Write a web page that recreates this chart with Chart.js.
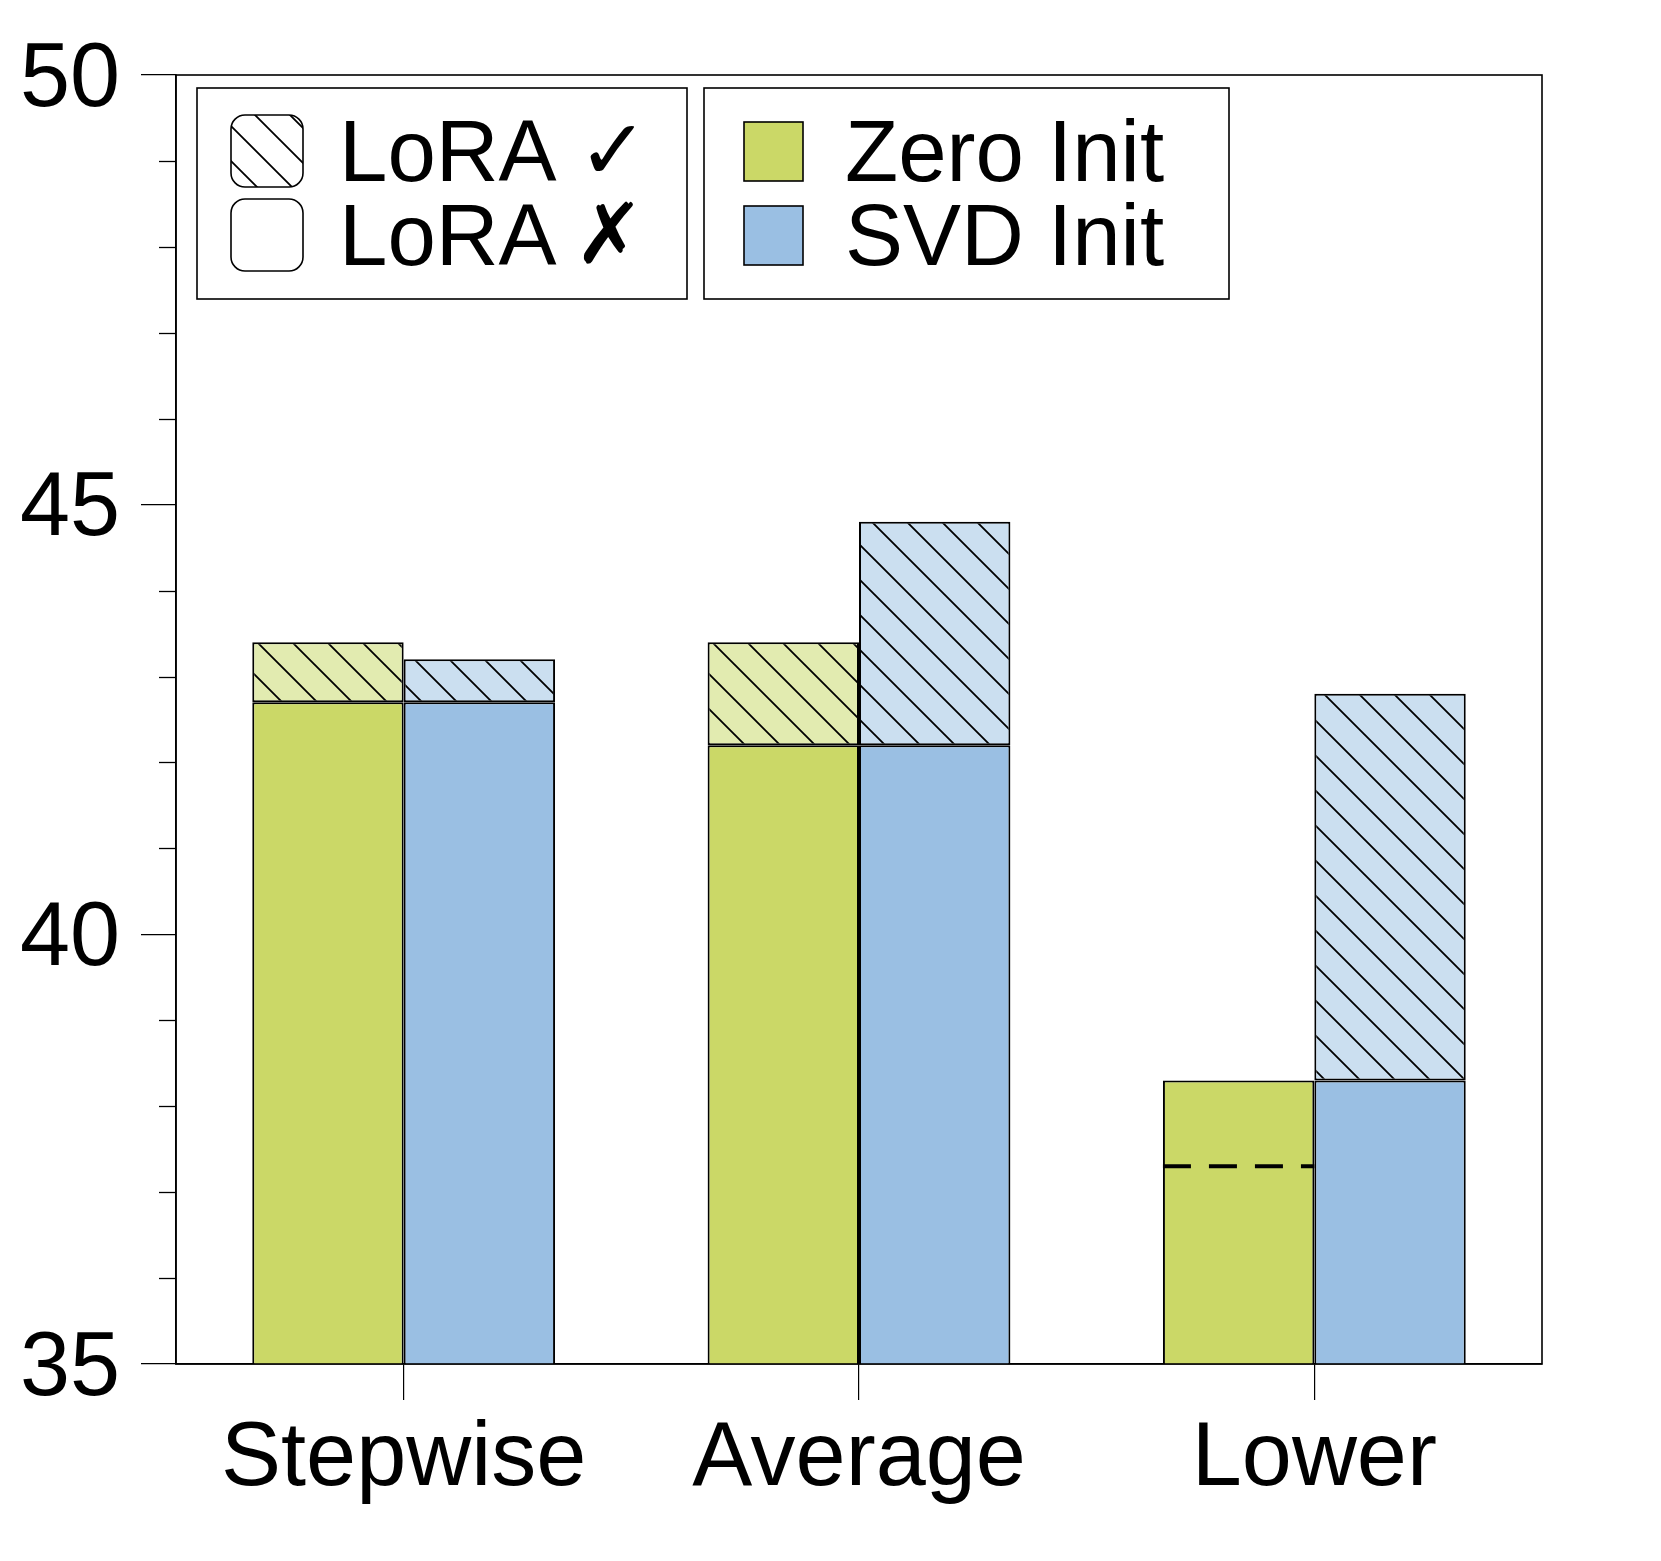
<!DOCTYPE html>
<html lang="en">
<head>
<meta charset="UTF-8">
<title>LoRA init comparison</title>
<script src="https://cdn.jsdelivr.net/npm/chart.js"></script>
<style>
    body { margin: 0; background: #fff; }
    #wrap { width: 1661px; height: 1561px; }
</style>
</head>
<body>
<div id="wrap"><canvas id="chart" width="1661" height="1561"></canvas></div>
<script>
// data
const categories = ['Stepwise', 'Average', 'Lower'];
const zeroInit = [42.7, 42.2, 38.3];
const zeroInitLora = [43.4, 43.4, null];
const svdInit = [42.7, 42.2, 38.3];
const svdInitLora = [43.2, 44.8, 42.8];
const lowerDashed = [null, null, 37.3];
const yTicks = [35, 40, 45, 50];
const yMinorStep = 1;

const green = '#cbd867';
const greenLight = '#e2ebb0';
const blue = '#9abfe3';
const blueLight = '#cbdff0';
const FONT = '"Liberation Sans", Arial, sans-serif';

const ctx = document.getElementById('chart').getContext('2d');

function hatch(bg) {
    const s = 35;
    const c = document.createElement('canvas');
    c.width = s; c.height = s;
    const g = c.getContext('2d');
    g.fillStyle = bg;
    g.fillRect(0, 0, s, s);
    g.strokeStyle = '#000';
    g.lineWidth = 1.8;
    g.beginPath();
    g.moveTo(-5, -5); g.lineTo(s + 5, s + 5);
    g.moveTo(-5, s - 5); g.lineTo(5, s + 5);
    g.moveTo(s - 5, -5); g.lineTo(s + 5, 5);
    g.stroke();
    return ctx.createPattern(c, 'repeat');
}

const diff = (top, base) => top.map((v, i) => v == null ? null : +(v - base[i]).toFixed(2));

const barStyle = { borderColor: '#000', borderWidth: 2, categoryPercentage: 0.665, barPercentage: 1.0 };

// minor ticks, frame, dashed marker
const extras = {
    id: 'extras',
    afterDatasetsDraw(chart) {
        const c = chart.ctx, a = chart.chartArea, y = chart.scales.y;
        c.save();
        c.strokeStyle = '#000';
        c.lineWidth = 1.6;
        c.strokeRect(a.left, a.top, a.right - a.left, a.bottom - a.top);
        c.lineWidth = 1.3;
        for (let v = y.min; v <= y.max; v += yMinorStep) {
            if (yTicks.includes(v)) continue;
            const py = Math.round(y.getPixelForValue(v)) + 0.5;
            c.beginPath();
            c.moveTo(a.left - 17, py);
            c.lineTo(a.left, py);
            c.stroke();
        }
        const meta = chart.getDatasetMeta(0);
        lowerDashed.forEach((v, i) => {
            if (v == null) return;
            const bar = meta.data[i];
            const py = y.getPixelForValue(v);
            c.lineWidth = 4;
            c.setLineDash([28, 18]);
            c.beginPath();
            c.moveTo(bar.x - bar.width / 2, py);
            c.lineTo(bar.x + bar.width / 2, py);
            c.stroke();
        });
        c.restore();
    },
    afterDraw(chart) {
        const c = chart.ctx;
        c.save();
        c.strokeStyle = '#000';
        c.lineWidth = 1.6;
        c.fillStyle = '#000';
        c.font = '87px ' + FONT;
        c.textBaseline = 'alphabetic';

        // legend 1: LoRA on / off
        c.strokeRect(197, 88, 490, 211);
        c.beginPath();
        c.roundRect(231, 115, 72, 72, 14);
        c.fillStyle = hatch('#ffffff');
        c.fill();
        c.stroke();
        c.beginPath();
        c.roundRect(231, 199, 72, 72, 14);
        c.fillStyle = '#fff';
        c.fill();
        c.stroke();
        c.fillStyle = '#000';
        c.fillText('LoRA', 339, 181);
        c.fillText('LoRA', 339, 265);
        c.font = 'bold 84px "DejaVu Sans", sans-serif';
        c.fillText('\u2713', 578, 179);
        c.fillText('\u2717', 574, 263);
        c.font = '87px ' + FONT;

        // legend 2: init
        c.strokeRect(704, 88, 525, 211);
        c.fillStyle = green;
        c.fillRect(744, 122, 59, 59);
        c.strokeRect(744, 122, 59, 59);
        c.fillStyle = blue;
        c.fillRect(744, 206, 59, 59);
        c.strokeRect(744, 206, 59, 59);
        c.fillStyle = '#000';
        c.fillText('Zero Init', 845, 181);
        c.fillText('SVD Init', 845, 265);
        c.restore();
    }
};

new Chart(ctx, {
    type: 'bar',
    data: {
        labels: categories,
        datasets: [
            { label: 'Zero Init', data: zeroInit, stack: 'zero', backgroundColor: green, borderSkipped: 'start', ...barStyle },
            { label: 'Zero Init + LoRA', data: diff(zeroInitLora, zeroInit), stack: 'zero', backgroundColor: hatch(greenLight), borderSkipped: false, ...barStyle },
            { label: 'SVD Init', data: svdInit, stack: 'svd', backgroundColor: blue, borderSkipped: 'start', ...barStyle },
            { label: 'SVD Init + LoRA', data: diff(svdInitLora, svdInit), stack: 'svd', backgroundColor: hatch(blueLight), borderSkipped: false, ...barStyle }
        ]
    },
    options: {
        responsive: false,
        animation: false,
        devicePixelRatio: 1,
        layout: { padding: { left: 0, right: 119, top: 74, bottom: 0 } },
        plugins: { legend: { display: false }, tooltip: { enabled: false } },
        scales: {
            x: {
                stacked: true,
                afterFit: s => { s.height = 197; },
                grid: { offset: false, drawOnChartArea: false, tickLength: 36, color: '#000', lineWidth: 1.2 },
                border: { display: true, color: '#000', width: 1.6 },
                ticks: { color: '#000', padding: 6, font: { family: FONT, size: 90 } }
            },
            y: {
                stacked: true,
                min: yTicks[0],
                max: yTicks[yTicks.length - 1],
                afterFit: s => { s.width = 176; },
                afterBuildTicks: s => { s.ticks = yTicks.map(v => ({ value: v })); },
                grid: { drawOnChartArea: false, tickLength: 35, color: '#000', lineWidth: 1.3 },
                border: { display: true, color: '#000', width: 1.6 },
                ticks: { color: '#000', padding: 21, labelOffset: 6, font: { family: FONT, size: 90 } }
            }
        }
    },
    plugins: [extras]
});
</script>
</body>
</html>
